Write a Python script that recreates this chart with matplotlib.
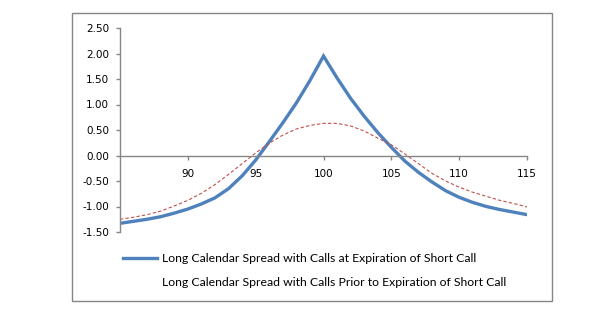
#!/usr/bin/env python3
# pylint: disable=invalid-name, missing-docstring

import matplotlib
matplotlib.use("Agg")
import matplotlib.pyplot as plt  # type: ignore
from matplotlib.lines import Line2D  # type: ignore
from matplotlib.patches import Rectangle  # type: ignore

# stock price at expiration of the short call
prices = list(range(85, 116))

# P/L at expiration of short call (blue, solid)
at_expiry = [
    -1.33, -1.29, -1.25, -1.20, -1.13, -1.05, -0.95, -0.83, -0.65, -0.40,
    -0.09, 0.27, 0.64, 1.03, 1.47, 1.95, 1.52, 1.12, 0.77, 0.45,
    0.16, -0.11, -0.33, -0.52, -0.69, -0.82, -0.92, -1.00, -1.06, -1.11,
    -1.16,
]

# P/L prior to expiration of short call (red, dashed)
prior_expiry = [
    -1.25, -1.21, -1.16, -1.09, -0.99, -0.88, -0.74, -0.57, -0.37, -0.16,
    0.05, 0.24, 0.40, 0.52, 0.59, 0.63, 0.63, 0.58, 0.48, 0.34,
    0.21, 0.03, -0.16, -0.35, -0.50, -0.62, -0.72, -0.80, -0.88, -0.94,
    -1.01,
]

labels = [
    "Long Calendar Spread with Calls at Expiration of Short Call",
    "Long Calendar Spread with Calls Prior to Expiration of Short Call",
]

x_ticks = [90, 95, 100, 105, 110, 115]
y_ticks = [-1.5, -1.0, -0.5, 0.0, 0.5, 1.0, 1.5, 2.0, 2.5]

BLUE = "#4F81BD"
RED = "#C0504D"
GRAY = "#868686"

fig = plt.figure(figsize=(6.0, 3.3), dpi=100)
fig.patches.append(Rectangle((72 / 600, 1 - 301 / 330), 480 / 600, 288 / 330,
                             transform=fig.transFigure, fill=False,
                             edgecolor=GRAY, linewidth=1.0))

ax = fig.add_axes([120 / 600, 1 - 232 / 330, 407 / 600, 204 / 330])
ax.plot(prices, at_expiry, color=BLUE, lw=2.4, solid_joinstyle="miter")
ax.plot(prices, prior_expiry, color=RED, lw=0.8, dashes=(3, 2))

ax.set_xlim(85, 115)
ax.set_ylim(-1.5, 2.5)
ax.set_xticks(x_ticks)
ax.set_yticks(y_ticks)
ax.set_yticklabels([f"{v:.2f}" for v in y_ticks])

for side in ("top", "right"):
    ax.spines[side].set_visible(False)
ax.spines["bottom"].set_position(("data", 0))
for side in ("left", "bottom"):
    ax.spines[side].set_color(GRAY)
    ax.spines[side].set_linewidth(1.0)
ax.tick_params(axis="both", direction="out", length=3, width=1.0,
               color=GRAY, labelsize=7.5)
ax.tick_params(axis="x", pad=6.5)
ax.tick_params(axis="y", pad=5)

# legend, drawn by hand to follow the spreadsheet layout
fig.add_artist(Line2D([123 / 600, 157 / 600], [1 - 258 / 330] * 2,
                      transform=fig.transFigure, color=BLUE, lw=2.4))
fig.text(162 / 600, 1 - 258 / 330, labels[0], va="center", ha="left",
         fontsize=8.8, family=["Lato", "DejaVu Sans"])
fig.text(162 / 600, 1 - 283 / 330, labels[1], va="center", ha="left",
         fontsize=8.8, family=["Lato", "DejaVu Sans"])

fig.savefig("out.png", dpi=100)
